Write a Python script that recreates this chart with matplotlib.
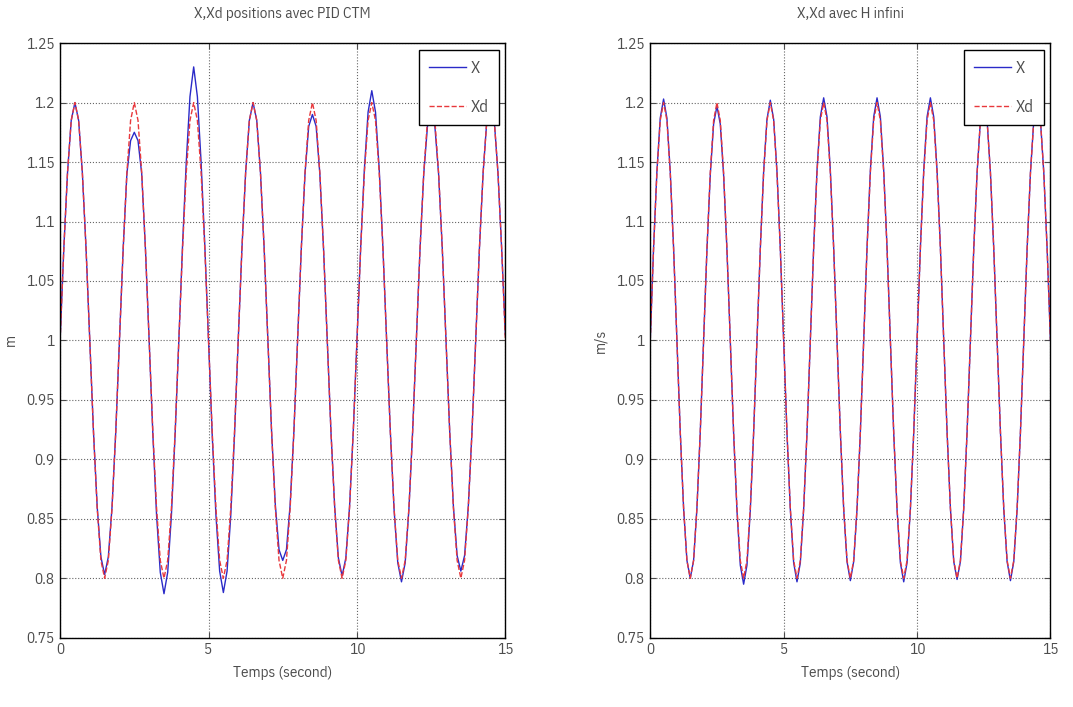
import numpy as np
import matplotlib
matplotlib.use('Agg')
import matplotlib.pyplot as plt

plt.rcParams['font.family'] = ['IBM Plex Sans Condensed', 'DejaVu Sans']

# sample times (s), 0.125 s step
t = np.linspace(0, 15, 121)

# desired trajectory Xd (both controllers)
xd = [
  1.000, 1.077, 1.141, 1.185, 1.200, 1.185, 1.141, 1.077,
  1.000, 0.923, 0.859, 0.815, 0.800, 0.815, 0.859, 0.923,
  1.000, 1.077, 1.141, 1.185, 1.200, 1.185, 1.141, 1.077,
  1.000, 0.923, 0.859, 0.815, 0.800, 0.815, 0.859, 0.923,
  1.000, 1.077, 1.141, 1.185, 1.200, 1.185, 1.141, 1.077,
  1.000, 0.923, 0.859, 0.815, 0.800, 0.815, 0.859, 0.923,
  1.000, 1.077, 1.141, 1.185, 1.200, 1.185, 1.141, 1.077,
  1.000, 0.923, 0.859, 0.815, 0.800, 0.815, 0.859, 0.923,
  1.000, 1.077, 1.141, 1.185, 1.200, 1.185, 1.141, 1.077,
  1.000, 0.923, 0.859, 0.815, 0.800, 0.815, 0.859, 0.923,
  1.000, 1.077, 1.141, 1.185, 1.200, 1.185, 1.141, 1.077,
  1.000, 0.923, 0.859, 0.815, 0.800, 0.815, 0.859, 0.923,
  1.000, 1.077, 1.141, 1.185, 1.200, 1.185, 1.141, 1.077,
  1.000, 0.923, 0.859, 0.815, 0.800, 0.815, 0.859, 0.923,
  1.000, 1.077, 1.141, 1.185, 1.200, 1.185, 1.141, 1.077,
  1.000]

# X with PID CTM
x_pid = [
  1.000, 1.077, 1.141, 1.185, 1.200, 1.185, 1.141, 1.077,
  1.000, 0.923, 0.860, 0.818, 0.803, 0.818, 0.860, 0.923,
  1.000, 1.077, 1.140, 1.168, 1.175, 1.168, 1.140, 1.077,
  1.000, 0.921, 0.853, 0.805, 0.787, 0.805, 0.853, 0.921,
  1.000, 1.080, 1.150, 1.205, 1.230, 1.205, 1.150, 1.080,
  1.000, 0.920, 0.853, 0.806, 0.788, 0.806, 0.853, 0.920,
  1.000, 1.077, 1.141, 1.185, 1.200, 1.185, 1.141, 1.077,
  1.000, 0.923, 0.862, 0.824, 0.815, 0.824, 0.862, 0.923,
  1.000, 1.077, 1.140, 1.180, 1.190, 1.180, 1.140, 1.077,
  1.000, 0.923, 0.860, 0.817, 0.802, 0.817, 0.860, 0.923,
  1.000, 1.078, 1.144, 1.192, 1.210, 1.192, 1.144, 1.078,
  1.000, 0.923, 0.858, 0.813, 0.797, 0.813, 0.858, 0.923,
  1.000, 1.077, 1.140, 1.180, 1.190, 1.180, 1.140, 1.077,
  1.000, 0.923, 0.860, 0.819, 0.806, 0.819, 0.860, 0.923,
  1.000, 1.077, 1.141, 1.185, 1.200, 1.185, 1.141, 1.077,
  1.005]

# X with H infini
x_hinf = [
  1.000, 1.078, 1.142, 1.187, 1.203, 1.187, 1.142, 1.078,
  1.000, 0.923, 0.859, 0.815, 0.800, 0.815, 0.859, 0.923,
  1.000, 1.076, 1.139, 1.182, 1.197, 1.182, 1.139, 1.076,
  1.000, 0.922, 0.857, 0.811, 0.795, 0.811, 0.857, 0.922,
  1.000, 1.077, 1.142, 1.186, 1.202, 1.186, 1.142, 1.077,
  1.000, 0.922, 0.858, 0.813, 0.797, 0.813, 0.858, 0.922,
  1.000, 1.078, 1.143, 1.188, 1.204, 1.188, 1.143, 1.078,
  1.000, 0.923, 0.858, 0.814, 0.798, 0.814, 0.858, 0.923,
  1.000, 1.078, 1.143, 1.188, 1.204, 1.188, 1.143, 1.078,
  1.000, 0.922, 0.858, 0.813, 0.797, 0.813, 0.858, 0.922,
  1.000, 1.078, 1.143, 1.188, 1.204, 1.188, 1.143, 1.078,
  1.000, 0.923, 0.859, 0.814, 0.799, 0.814, 0.859, 0.923,
  1.000, 1.077, 1.141, 1.185, 1.200, 1.185, 1.141, 1.077,
  1.000, 0.923, 0.858, 0.814, 0.798, 0.814, 0.858, 0.923,
  1.000, 1.077, 1.141, 1.185, 1.200, 1.185, 1.141, 1.077,
  1.000]

titles = ['X,Xd positions avec PID CTM', 'X,Xd avec H infini']
ylabels = ['m', 'm/s']
xticks = [0, 5, 10, 15]
yticks = [0.75, 0.8, 0.85, 0.9, 0.95, 1, 1.05, 1.1, 1.15, 1.2, 1.25]
ytick_labels = ['0.75', '0.8', '0.85', '0.9', '0.95', '1', '1.05', '1.1', '1.15', '1.2', '1.25']

fig = plt.figure(figsize=(10.73, 7.07), dpi=100)
axes = [fig.add_axes([0.056, 0.098, 0.415, 0.841]),
        fig.add_axes([0.606, 0.098, 0.373, 0.841])]

for ax, x_series, title, ylab in zip(axes, [x_pid, x_hinf], titles, ylabels):
  ax.plot(t, x_series, '-', color='#2a2ac8', lw=1.0, label='X')
  ax.plot(t, xd, '--', color='#e8383c', lw=1.0, label='Xd')
  ax.set_xlim(0, 15)
  ax.set_ylim(0.75, 1.25)
  ax.set_xticks(xticks)
  ax.set_yticks(yticks)
  ax.set_yticklabels(ytick_labels)
  ax.grid(True, linestyle=':', color='0.4', lw=0.8)
  ax.tick_params(direction='in', top=True, right=True, length=4,
                 labelsize=11, colors='0.3', pad=4)
  for sp in ax.spines.values():
    sp.set_linewidth(1.0)
  ax.set_title(title, fontsize=11, color='0.3', pad=18)
  ax.set_xlabel('Temps (second)', fontsize=11, color='0.3', labelpad=6)
  ax.set_ylabel(ylab, fontsize=11, color='0.3', labelpad=6)
  leg = ax.legend(loc='upper right', fancybox=False, framealpha=1,
                  edgecolor='black', fontsize=12, handlelength=2.2,
                  borderaxespad=0.4, labelspacing=1.4, handletextpad=0.3,
                  borderpad=0.6)
  leg.get_frame().set_linewidth(1.0)
  for txt in leg.get_texts():
    txt.set_color('0.3')

plt.savefig('out.png', dpi=100)
